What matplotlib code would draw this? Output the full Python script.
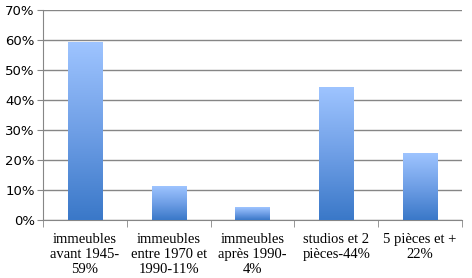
import matplotlib
matplotlib.use('Agg')
import matplotlib.pyplot as plt
import numpy as np
from matplotlib.colors import LinearSegmentedColormap
from matplotlib.ticker import FuncFormatter

# Données
categories = ['immeubles\navant 1945-\n59%', 'immeubles\nentre 1970 et\n1990-11%',
              'immeubles\naprès 1990-\n4%', 'studios et 2\npièces-44%', '5 pièces et +\n22%']
valeurs = [0.59, 0.11, 0.04, 0.44, 0.22]

fig = plt.figure(figsize=(4.72, 2.78), dpi=100)
ax = fig.add_axes([0.0911, 0.2086, 0.8877, 0.7554])

x = np.arange(len(categories))
bars = ax.bar(x, valeurs, width=0.41, color='none', zorder=3)

# dégradé vertical dans chaque barre
cmap = LinearSegmentedColormap.from_list('grad', ['#3A78C8', '#6F9FE6', '#9EC4FF'])
grad = np.linspace(0, 1, 256).reshape(-1, 1)
for b in bars:
    x0, w, h = b.get_x(), b.get_width(), b.get_height()
    ax.imshow(grad, extent=(x0, x0 + w, 0, h), origin='lower', cmap=cmap,
              aspect='auto', zorder=3)

ax.set_xlim(-0.5, len(categories) - 0.5)
ax.set_ylim(0, 0.70)
ax.set_yticks(np.arange(0, 0.71, 0.1))
ax.yaxis.set_major_formatter(FuncFormatter(lambda v, p: f'{v*100:.0f}%'))
ax.grid(axis='y', color='#868686', linewidth=1, zorder=0)
ax.set_axisbelow(True)

for s in ['top', 'right']:
    ax.spines[s].set_visible(False)
for s in ['left', 'bottom']:
    ax.spines[s].set_color('#868686')
ax.tick_params(axis='y', length=4, color='#868686', labelsize=9.5, pad=2)
for t in ax.get_yticklabels():
    t.set_fontfamily('DejaVu Sans')

ax.set_xticks(x)
ax.set_xticklabels(categories, fontfamily='Liberation Serif', fontsize=10.5,
                   linespacing=1.2)
ax.tick_params(axis='x', length=0, pad=9)
ax.set_xticks(np.arange(-0.5, len(categories)), minor=True)
ax.tick_params(axis='x', which='minor', length=5, color='#868686')

plt.savefig('out.png', dpi=100)
